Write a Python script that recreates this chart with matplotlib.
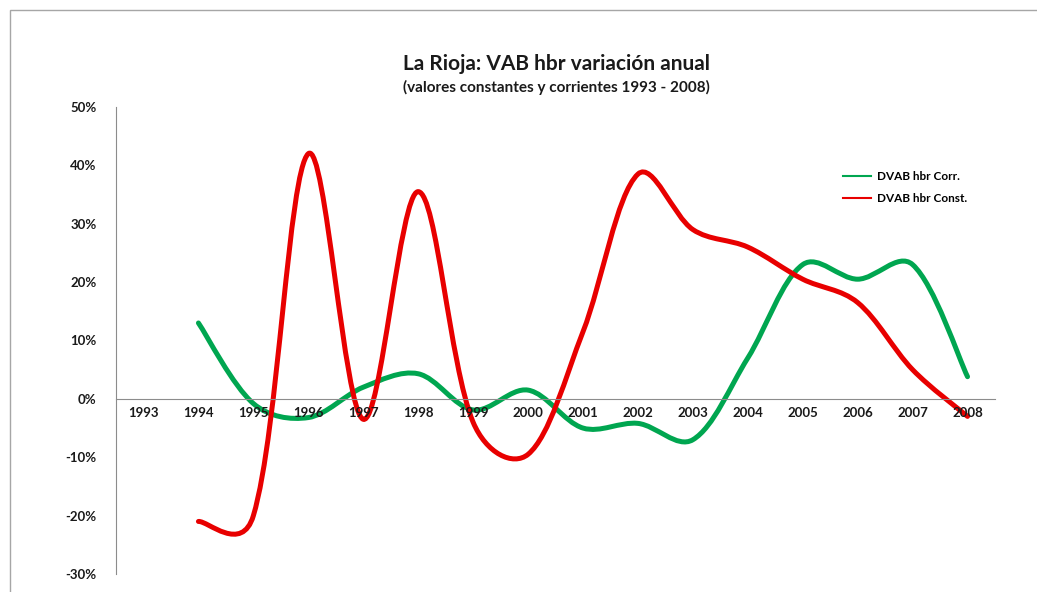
import matplotlib.pyplot as plt
from matplotlib.path import Path
from matplotlib.patches import PathPatch, Rectangle
from matplotlib.lines import Line2D
from matplotlib.ticker import FuncFormatter
import math

years = ['1993', '1994', '1995', '1996', '1997', '1998', '1999', '2000',
         '2001', '2002', '2003', '2004', '2005', '2006', '2007', '2008']
# % variation, 1993 has no value
corr = [None, 13.0, -0.8, -3.2, 2.0, 4.3, -1.9, 1.5,
        -5.0, -4.2, -7.0, 7.0, 23.0, 20.5, 23.0, 3.8]
const = [None, -21.0, -20.0, 42.0, -3.5, 35.5, -4.0, -9.5,
         11.5, 38.5, 29.0, 26.0, 20.5, 16.5, 5.0, -3.0]

plt.rcParams['font.family'] = ['Lato', 'DejaVu Sans']


def smooth_path(ax, vals):
    # Excel-like smoothed line, control points worked out in screen space
    pts = [ax.transData.transform((i, v)) for i, v in enumerate(vals) if v is not None]
    n = len(pts)

    def d(a, b):
        return math.hypot(b[0] - a[0], b[1] - a[1])

    verts = [pts[0]]
    codes = [Path.MOVETO]
    for i in range(n - 1):
        p0 = pts[max(i - 1, 0)]
        p1 = pts[i]
        p2 = pts[i + 1]
        p3 = pts[min(i + 2, n - 1)]
        d01, d12, d23 = d(p0, p1), d(p1, p2), d(p2, p3)
        f1 = 0.5 / 6 + 0.5 * d12 / (d01 + d12) / 3
        f2 = 0.5 / 6 + 0.5 * d12 / (d12 + d23) / 3
        if i == 0:
            f1 = 1 / 6
        if i == n - 2:
            f2 = 1 / 6
        c1 = (p1[0] + (p2[0] - p0[0]) * f1, p1[1] + (p2[1] - p0[1]) * f1)
        c2 = (p2[0] - (p3[0] - p1[0]) * f2, p2[1] - (p3[1] - p1[1]) * f2)
        verts += [c1, c2, p2]
        codes += [Path.CURVE4] * 3
    inv = ax.transData.inverted()
    return Path(inv.transform(verts), codes)


fig = plt.figure(figsize=(10.37, 5.92), dpi=100)
fig.patches.append(Rectangle((10 / 1037, -0.2), 1.2, 1.2 - 10 / 592,
                             transform=fig.transFigure, fill=False,
                             edgecolor='#a6a6a6', linewidth=1.0))
ax = fig.add_axes([0.1119, 0.0304, 0.8476, 0.7889])

ax.set_xlim(-0.5, len(years) - 0.5)
ax.set_ylim(-30, 50)

green = '#00a650'
red = '#e80000'
ax.add_patch(PathPatch(smooth_path(ax, corr), fill=False, edgecolor=green,
                       linewidth=3.6, capstyle='round', joinstyle='round'))
ax.add_patch(PathPatch(smooth_path(ax, const), fill=False, edgecolor=red,
                       linewidth=3.6, capstyle='round', joinstyle='round'))

ax.set_yticks(range(-30, 51, 10))
ax.yaxis.set_major_formatter(FuncFormatter(lambda v, p: f'{v:.0f}%'))
ax.set_xticks(range(len(years)))
ax.set_xticklabels(years)

for s in ['top', 'right']:
    ax.spines[s].set_visible(False)
ax.spines['left'].set_color('#8c8c8c')
ax.spines['bottom'].set_color('#8c8c8c')
ax.spines['bottom'].set_position(('data', 0))
ax.tick_params(axis='both', length=0, labelsize=9.5, colors='#1a1a1a')
ax.tick_params(axis='y', pad=14)
ax.tick_params(axis='x', pad=6)
for lab in ax.get_xticklabels() + ax.get_yticklabels():
    lab.set_fontweight('bold')

fig.text(0.537, 0.892, 'La Rioja: VAB hbr variación anual', ha='center',
         va='center', fontsize=15, fontweight='bold', color='#1a1a1a')
fig.text(0.537, 0.853, '(valores constantes y corrientes 1993 - 2008)',
         ha='center', va='center', fontsize=11, fontweight='bold',
         color='#1a1a1a')

handles = [Line2D([], [], color=green, linewidth=1.5),
           Line2D([], [], color=red, linewidth=1.5)]
leg = ax.legend(handles, ['DVAB hbr Corr.', 'DVAB hbr Const.'],
                loc='upper left', bbox_to_anchor=(0.815, 0.885), frameon=False,
                prop={'size': 8.5, 'weight': 'bold'}, handlelength=2.4,
                labelspacing=0.9, handletextpad=0.5)

fig.savefig('out.png', dpi=100)
